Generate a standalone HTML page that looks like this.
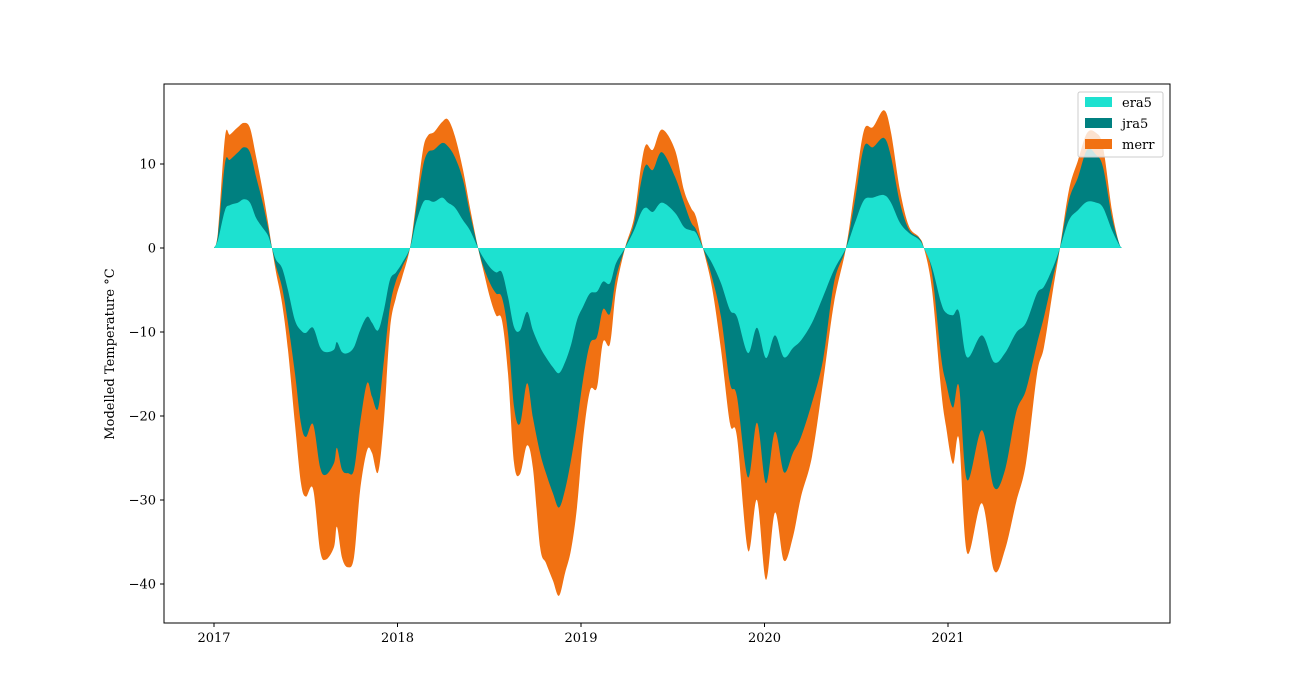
<!DOCTYPE html>
<html><head><meta charset="utf-8"><style>
html,body{margin:0;padding:0;background:#fff;}
svg{display:block;font-family:"DejaVu Serif","Liberation Serif",serif;}
</style></head><body>
<svg id="chart" width="1300" height="700" xmlns="http://www.w3.org/2000/svg">
<rect x="0" y="0" width="1300" height="700" fill="#fff"/>
<g id="areas"></g>
<rect x="164" y="84" width="1006" height="539" fill="none" stroke="#000" stroke-width="1"/>
<g id="xaxis"></g>
<g id="yaxis"></g>
<text x="114" y="354" font-size="13" text-anchor="middle" transform="rotate(-90 114 354)">Modelled Temperature °C</text>
<g>
<rect x="1078" y="92" width="85" height="65" rx="2" fill="#fff" fill-opacity="0.8" stroke="#ccc"/>
<g><rect x="1085" y="97" width="27" height="10" fill="#1de1d0"/><text x="1122" y="107" font-size="13">era5</text></g>
<g><rect x="1085" y="118" width="27" height="10" fill="#008080"/><text x="1122" y="128" font-size="13">jra5</text></g>
<g><rect x="1085" y="139" width="27" height="10" fill="#f17112"/><text x="1122" y="149" font-size="13">merr</text></g>
</g>
</svg>
<script>
const dates=[2017.000,2017.022,2017.060,2017.087,2017.131,2017.163,2017.196,2017.229,2017.262,2017.294,2017.316,2017.338,2017.371,2017.403,2017.441,2017.474,2017.501,2017.540,2017.578,2017.610,2017.654,2017.670,2017.698,2017.730,2017.763,2017.796,2017.834,2017.861,2017.894,2017.926,2017.959,2017.992,2018.025,2018.068,2018.101,2018.139,2018.166,2018.199,2018.243,2018.275,2018.313,2018.357,2018.395,2018.439,2018.466,2018.504,2018.537,2018.569,2018.602,2018.635,2018.668,2018.706,2018.738,2018.777,2018.809,2018.847,2018.880,2018.913,2018.946,2018.978,2019.011,2019.049,2019.087,2019.120,2019.158,2019.191,2019.240,2019.289,2019.327,2019.354,2019.392,2019.441,2019.512,2019.561,2019.599,2019.627,2019.665,2019.714,2019.763,2019.812,2019.850,2019.910,2019.959,2020.008,2020.057,2020.106,2020.155,2020.199,2020.259,2020.319,2020.379,2020.444,2020.493,2020.542,2020.591,2020.651,2020.689,2020.738,2020.787,2020.842,2020.869,2020.913,2020.962,2020.989,2021.027,2021.060,2021.104,2021.185,2021.251,2021.311,2021.371,2021.425,2021.485,2021.523,2021.572,2021.610,2021.659,2021.708,2021.758,2021.807,2021.845,2021.894,2021.932,2021.948];
const era5=[0,1.0,4.5,5.1,5.4,5.8,5.4,3.6,2.5,1.5,0,-1.4,-2.4,-5.0,-8.6,-9.8,-10.1,-9.5,-11.8,-12.4,-12.1,-11.2,-12.4,-12.5,-11.8,-9.8,-8.2,-8.9,-9.8,-7.4,-3.8,-2.9,-1.8,0,3.0,5.4,5.7,5.5,6.0,5.4,4.8,3.3,2.1,0,-1.1,-2.3,-2.9,-2.9,-5.8,-9.4,-9.8,-7.6,-9.8,-11.8,-13.0,-14.2,-14.9,-13.6,-11.5,-8.6,-7.0,-5.4,-5.2,-4.0,-4.2,-1.8,0,2.1,4.2,4.8,4.3,5.4,4.2,2.5,2.1,1.8,0,-1.8,-4.2,-7.4,-8.2,-12.5,-9.5,-13.1,-10.4,-13.0,-11.9,-11.0,-8.9,-5.8,-2.6,0,3.0,5.7,6.0,6.3,5.4,3.0,1.8,1.0,0,-2.3,-6.5,-7.7,-8.0,-7.6,-13.0,-10.4,-13.6,-12.5,-10.1,-8.9,-5.4,-4.6,-2.3,0,3.3,4.5,5.5,5.4,4.8,2.1,0.4,0];
const jra5=[0,0.6,5.6,5.4,6.0,6.2,6.0,4.9,3.2,1.0,0,-0.8,-2.3,-3.9,-6.3,-11.1,-12.4,-11.5,-14.3,-14.6,-13.5,-12.6,-14.0,-14.3,-14.6,-11.1,-7.9,-8.8,-9.3,-6.0,-3.2,-1.0,-0.5,0,1.5,4.3,5.7,6.2,6.5,6.7,6.0,4.8,2.0,0,-1.0,-1.9,-2.5,-3.0,-4.3,-9.5,-11.1,-8.5,-10.4,-12.6,-13.8,-15.0,-16.0,-15.2,-13.7,-12.3,-8.7,-6.0,-5.4,-3.3,-3.6,-1.7,0,0.8,3.6,5.1,5.0,6.0,4.3,2.9,1.0,0.4,0,-1.7,-4.0,-8.7,-9.5,-14.8,-11.3,-14.9,-11.5,-13.7,-12.5,-11.5,-9.5,-7.5,-1.5,0,2.7,6.3,6.0,6.8,5.5,2.4,0.4,0.2,0,-0.7,-6.4,-8.3,-11.0,-8.9,-14.6,-11.3,-14.9,-13.9,-9.5,-8.0,-6.0,-3.6,-1.2,0,2.4,3.9,6.2,5.7,4.8,1.5,0.2,0];
const merr=[0,0.4,3.1,3.0,3.0,2.9,2.9,2.4,1.5,0.6,0,-0.7,-1.9,-3.2,-6.0,-7.1,-7.1,-7.7,-9.9,-10.1,-10.0,-9.4,-10.5,-11.2,-10.4,-8.0,-8.0,-6.7,-7.6,-7.1,-2.7,-2.0,-1.2,0,0.8,2.0,2.0,2.1,2.5,3.2,2.5,1.2,0.7,0,-0.4,-1.7,-2.6,-2.7,-4.8,-6.7,-6.0,-7.4,-6.0,-11.2,-10.7,-10.4,-10.5,-9.9,-10.7,-10.0,-7.1,-5.6,-6.0,-3.9,-3.6,-1.5,0,0.7,1.9,2.4,2.4,2.7,3.2,1.5,1.7,1.5,0,-1.2,-3.9,-4.8,-4.8,-8.7,-9.2,-11.5,-9.6,-10.5,-10.0,-7.1,-6.4,-2.7,-2.4,0,1.5,2.0,2.4,3.3,2.9,1.5,0.4,0.1,0,-2.0,-3.9,-5.2,-6.7,-6.3,-8.7,-8.7,-9.9,-9.5,-10.7,-8.7,-3.6,-3.6,-1.5,0,1.2,2.0,2.0,2.6,2.4,0.8,0,0];
const xTicks=[2017,2018,2019,2020,2021];
const yTicks=[10,0,-10,-20,-30,-40];

const NS="http://www.w3.org/2000/svg";
function xs(d){return 214+(d-2017)*183.5;}
function ys(v){return 248-v*8.4;}

function smoothPath(pts){
  let d="M"+pts[0][0].toFixed(2)+","+pts[0][1].toFixed(2);
  for(let i=0;i<pts.length-1;i++){
    const p0=pts[Math.max(0,i-1)],p1=pts[i],p2=pts[i+1],p3=pts[Math.min(pts.length-1,i+2)];
    const t=1/6;
    const c1x=p1[0]+(p2[0]-p0[0])*t, c1y=p1[1]+(p2[1]-p0[1])*t;
    const c2x=p2[0]-(p3[0]-p1[0])*t, c2y=p2[1]-(p3[1]-p1[1])*t;
    d+=" C"+c1x.toFixed(2)+","+c1y.toFixed(2)+" "+c2x.toFixed(2)+","+c2y.toFixed(2)+" "+p2[0].toFixed(2)+","+p2[1].toFixed(2);
  }
  return d;
}
const areas=document.getElementById('areas');
const c1=[],c2=[],c3=[];
for(let i=0;i<dates.length;i++){
  c1.push(era5[i]);c2.push(era5[i]+jra5[i]);c3.push(era5[i]+jra5[i]+merr[i]);
}
const layers=[[c3,'#f17112','area-merr'],[c2,'#008080','area-jra5'],[c1,'#1de1d0','area-era5']];
layers.forEach(function(L){
  const pts=dates.map(function(d,i){return [xs(d),ys(L[0][i])];});
  const p=document.createElementNS(NS,'path');
  const d=smoothPath(pts)+" L"+xs(dates[dates.length-1]).toFixed(2)+","+ys(0)+" L"+xs(dates[0]).toFixed(2)+","+ys(0)+" Z";
  p.setAttribute('d',d);
  p.setAttribute('fill',L[1]);
  
  
  areas.appendChild(p);
});
const xa=document.getElementById('xaxis');
xTicks.forEach(function(t){
  const x=xs(t);
  const l=document.createElementNS(NS,'line');
  l.setAttribute('x1',x);l.setAttribute('x2',x);l.setAttribute('y1',623);l.setAttribute('y2',627);l.setAttribute('stroke','#000');
  
  
  xa.appendChild(l);
  const tx=document.createElementNS(NS,'text');
  tx.setAttribute('x',x);tx.setAttribute('y',642);tx.setAttribute('font-size','13');tx.setAttribute('text-anchor','middle');
  tx.textContent=t;
  
  
  xa.appendChild(tx);
});
const ya=document.getElementById('yaxis');
yTicks.forEach(function(t){
  const y=ys(t);
  const l=document.createElementNS(NS,'line');
  l.setAttribute('x1',160);l.setAttribute('x2',164);l.setAttribute('y1',y);l.setAttribute('y2',y);l.setAttribute('stroke','#000');
  
  
  ya.appendChild(l);
  const tx=document.createElementNS(NS,'text');
  tx.setAttribute('x',156);tx.setAttribute('y',y+4.5);tx.setAttribute('font-size','13');tx.setAttribute('text-anchor','end');
  tx.textContent=t<0?('\u2212'+Math.abs(t)):String(t);
  
  
  ya.appendChild(tx);
});
</script>
</body></html>
